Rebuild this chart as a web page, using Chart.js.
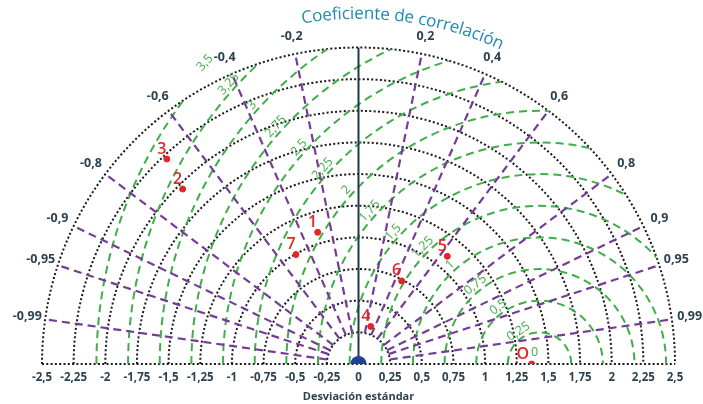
<!DOCTYPE html>
<html>
<head>
<meta charset="utf-8">
<script src="https://cdn.jsdelivr.net/npm/chart.js@4.4.1/dist/chart.umd.min.js"></script>
<style>
  html, body { margin: 0; padding: 0; background: #fff; }
  #wrap { width: 703px; height: 404px; position: relative; }
</style>
</head>
<body>
<div id="wrap"><canvas id="taylor"></canvas></div>
<script>
// Diagrama de Taylor

const stdArcs = [0.25, 0.5, 0.75, 1, 1.25, 1.5, 1.75, 2, 2.25, 2.5];
const corrTicks = [-0.99, -0.95, -0.9, -0.8, -0.6, -0.4, -0.2, 0.2, 0.4, 0.6, 0.8, 0.9, 0.95, 0.99];
const rmsLevels = [0.25, 0.5, 0.75, 1, 1.25, 1.5, 1.75, 2, 2.25, 2.5, 2.75, 3, 3.25, 3.5];
const refStd = 1.43;

const modelNames = ["1", "2", "3", "4", "5", "6", "7", "O"];
const modelStd = [1.1, 1.97, 2.23, 0.315, 1.11, 0.746, 1.004, 1.368];
const modelCorr = [-0.293, -0.705, -0.679, 0.306, 0.632, 0.457, -0.492, 1.0];

const maxStd = 2.5;
const titleText = "Coeficiente de correlación";

const green = "#3fae48";
const purple = "#743c97";
const dark = "#2c4252";
const red = "#e2242b";

function fmt(v) {
  return String(+v.toFixed(2)).replace(".", ",");
}

const points = modelStd.map((s, i) => ({
  x: s * modelCorr[i],
  y: s * Math.sqrt(Math.max(0, 1 - modelCorr[i] * modelCorr[i])),
}));

const taylorPlugin = {
  id: "taylor",
  beforeDatasetsDraw(chart) {
    const { ctx } = chart;
    const xs = chart.scales.x;
    const ys = chart.scales.y;
    const ox = xs.getPixelForValue(0);
    const oy = ys.getPixelForValue(0);
    const k = xs.getPixelForValue(1) - ox;
    const R = maxStd * k;

    ctx.save();

    // arcos de desviacion estandar (punteados)
    ctx.strokeStyle = "#1a1a1a";
    ctx.lineWidth = 2;
    ctx.setLineDash([2, 2.3]);
    for (const s of stdArcs) {
      ctx.beginPath();
      ctx.arc(ox, oy, s * k, Math.PI, 0);
      ctx.stroke();
    }
    ctx.beginPath();
    ctx.moveTo(ox - R, oy);
    ctx.lineTo(ox + R, oy);
    ctx.stroke();

    // arcos RMS centrados en la referencia
    const rx = xs.getPixelForValue(refStd);
    ctx.save();
    ctx.beginPath();
    ctx.arc(ox, oy, R, Math.PI, 0);
    ctx.closePath();
    ctx.clip();
    ctx.strokeStyle = green;
    ctx.lineWidth = 2;
    ctx.setLineDash([8, 5]);
    for (const r of rmsLevels) {
      ctx.beginPath();
      ctx.arc(rx, oy, r * k, Math.PI, 0);
      ctx.stroke();
    }
    ctx.restore();

    // lineas de correlacion
    ctx.strokeStyle = purple;
    ctx.lineWidth = 2.2;
    ctx.setLineDash([8, 5]);
    for (const c of corrTicks) {
      const a = Math.acos(c);
      ctx.beginPath();
      ctx.moveTo(ox + 0.25 * k * Math.cos(a), oy - 0.25 * k * Math.sin(a));
      ctx.lineTo(ox + R * Math.cos(a), oy - R * Math.sin(a));
      ctx.stroke();
    }

    // eje vertical
    ctx.setLineDash([]);
    ctx.strokeStyle = "#1e3a4a";
    ctx.lineWidth = 2;
    ctx.beginPath();
    ctx.moveTo(ox, oy);
    ctx.lineTo(ox, oy - R);
    ctx.stroke();

    ctx.fillStyle = "#21409a";
    ctx.beginPath();
    ctx.arc(ox, oy, 8, Math.PI, 0);
    ctx.closePath();
    ctx.fill();

    ctx.restore();
  },
  afterDatasetsDraw(chart) {
    const { ctx } = chart;
    const xs = chart.scales.x;
    const ys = chart.scales.y;
    const ox = xs.getPixelForValue(0);
    const oy = ys.getPixelForValue(0);
    const k = xs.getPixelForValue(1) - ox;
    const R = maxStd * k;
    const rx = xs.getPixelForValue(refStd);

    ctx.save();
    ctx.textAlign = "center";
    ctx.textBaseline = "middle";

    // etiquetas RMS
    ctx.fillStyle = green;
    ctx.font = '12.5px "Open Sans"';
    for (const r of rmsLevels) {
      const phi = Math.min(138, 120 + 12 * r) * Math.PI / 180;
      const d = r * k + 7;
      ctx.save();
      ctx.translate(rx + d * Math.cos(phi), oy - d * Math.sin(phi));
      ctx.rotate(Math.PI / 2 - phi);
      ctx.fillText(fmt(r), 0, 0);
      ctx.restore();
    }
    ctx.fillText("0", rx - 5, oy - 12);

    // etiquetas de correlacion
    ctx.fillStyle = dark;
    ctx.font = 'bold 12.5px "Open Sans"';
    for (const c of corrTicks) {
      const a = Math.acos(c);
      const d = R + 18;
      ctx.fillText(fmt(c), ox + d * Math.cos(a), oy - d * Math.sin(a));
    }

    // titulo curvo
    ctx.fillStyle = "#1d8ab3";
    ctx.font = '17px "Open Sans"';
    const tr = 350;
    const chars = Array.from(titleText);
    const widths = chars.map((ch) => ctx.measureText(ch).width);
    const total = widths.reduce((a, b) => a + b, 0);
    const thetaC = 82.5 * Math.PI / 180;
    let acc = 0;
    chars.forEach((ch, i) => {
      const mid = acc + widths[i] / 2;
      const th = thetaC + (total / 2 - mid) / tr;
      ctx.save();
      ctx.translate(ox + tr * Math.cos(th), oy - tr * Math.sin(th));
      ctx.rotate(Math.PI / 2 - th);
      ctx.fillText(ch, 0, 0);
      ctx.restore();
      acc += widths[i];
    });

    // nombres de los puntos
    ctx.fillStyle = red;
    ctx.font = '600 16px "Open Sans"';
    points.forEach((p, i) => {
      const px = xs.getPixelForValue(p.x);
      const py = ys.getPixelForValue(p.y);
      if (modelNames[i] === "O") {
        ctx.fillText(modelNames[i], px - 9, py - 10);
      } else {
        ctx.fillText(modelNames[i], px - 5, py - 10);
      }
    });

    ctx.restore();
  },
};

new Chart(document.getElementById("taylor"), {
  type: "scatter",
  data: {
    datasets: [
      {
        data: points,
        backgroundColor: red,
        borderColor: red,
        pointRadius: 3,
        pointHoverRadius: 3,
      },
    ],
  },
  options: {
    responsive: true,
    maintainAspectRatio: false,
    animation: false,
    layout: { padding: { left: 42, right: 28, top: 0, bottom: 0 } },
    plugins: {
      legend: { display: false },
      tooltip: { enabled: false },
    },
    scales: {
      x: {
        type: "linear",
        min: -2.5,
        max: 2.5,
        grid: { display: false, drawTicks: false },
        border: { display: false },
        afterFit(scale) {
          scale.height = 40;
        },
        ticks: {
          stepSize: 0.25,
          autoSkip: false,
          maxRotation: 0,
          padding: 7,
          color: dark,
          font: { family: "Open Sans", size: 11.5, weight: "bold" },
          callback: (v) => fmt(v),
        },
        title: {
          display: true,
          text: "Desviación estándar",
          color: dark,
          padding: { top: 0, bottom: 1 },
          font: { family: "Open Sans", size: 11, weight: "bold" },
        },
      },
      y: {
        display: false,
        min: 0,
        max: 2.875,
      },
    },
  },
  plugins: [taylorPlugin],
});
</script>
</body>
</html>
